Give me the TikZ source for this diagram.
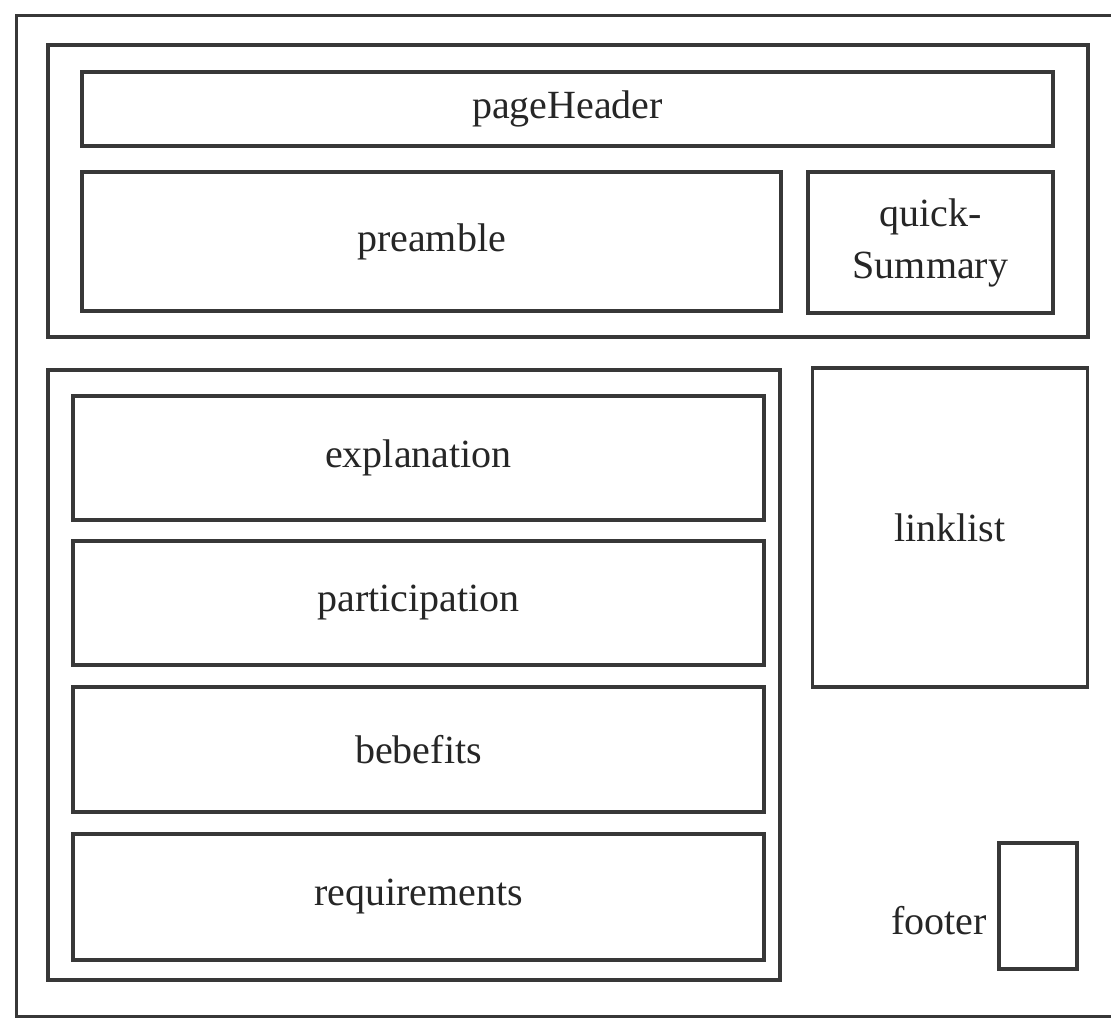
\documentclass[tikz,border=0pt]{standalone}
\usepackage{fontspec}
\setmainfont{Liberation Serif}
\begin{document}
\begin{tikzpicture}[x=1pt,y=-1pt,
  box/.style={draw=black!78, line width=3.6pt, inner sep=0pt, font=\fontsize{40}{50}\selectfont, text=black!85, align=center},
  grp/.style={draw=black!78, line width=3.6pt, inner sep=0pt},
  lbl/.style={inner sep=0pt, font=\fontsize{40}{50}\selectfont, text=black!85}]
\useasboundingbox (0,0) rectangle (1111,1018);
\clip (0,0) rectangle (1111,1018);
\fill[white] (0,0) rectangle (1111,1018);
% outer frame
\draw[draw=black!78, line width=3pt] (16,15) rectangle (1130,1016);
% group 1
\node[grp, minimum width=1040pt, minimum height=292pt] (g1) at (568,191) {};
\node[box, minimum width=971pt, minimum height=74pt] (ph) at (567.5,109) {pageHeader};
\node[box, minimum width=699pt, minimum height=139pt] (pre) at (431.5,241.5) {preamble};
\node[box, minimum width=245pt, minimum height=141pt] (qs) at (930.5,242.5) {quick-\\[2pt]Summary};
% group 2
\node[grp, minimum width=732pt, minimum height=610pt] (g2) at (414,675) {};
\node[box, minimum width=691pt, minimum height=124pt] (ex) at (418.5,458) {explanation};
\node[box, minimum width=691pt, minimum height=124pt] (pa) at (418.5,603) {participation};
\node[box, minimum width=691pt, minimum height=125pt] (be) at (418.5,749.5) {bebefits};
\node[box, minimum width=691pt, minimum height=126pt] (re) at (418.5,897) {requirements};
% linklist
\node[box, minimum width=275pt, minimum height=319pt] (ll) at (950,527.5) {linklist};
% footer
\node[grp, minimum width=78pt, minimum height=126pt] (ft) at (1038,906) {};
\node[lbl, anchor=east] (ftl) at (987,921) {footer};
\end{tikzpicture}
\end{document}
